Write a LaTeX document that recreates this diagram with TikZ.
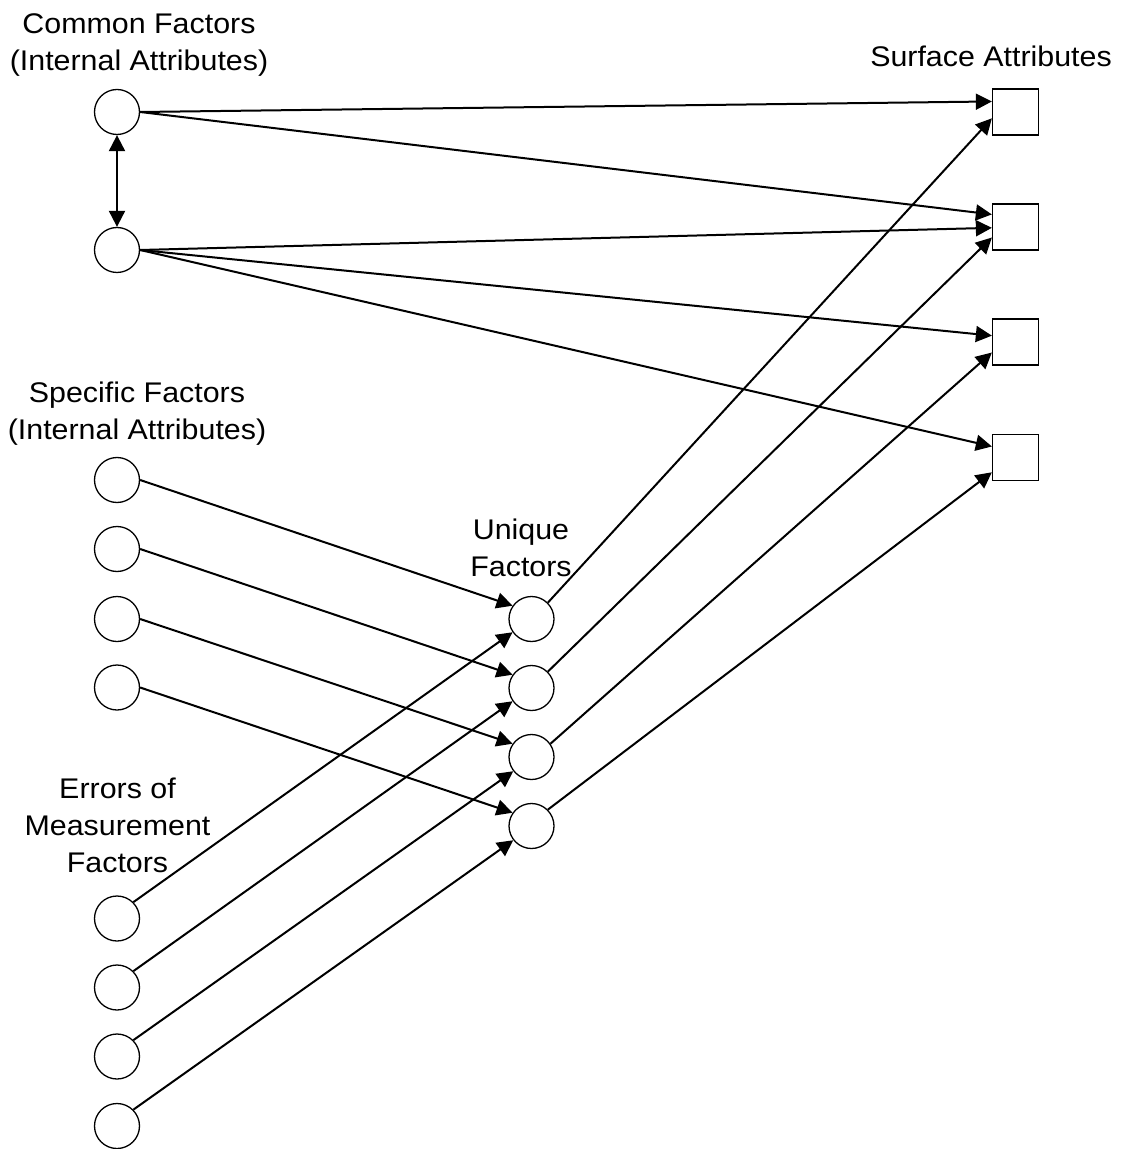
\documentclass[tikz,border=0pt]{standalone}
\usepackage{fontspec}
\setmainfont{Liberation Sans}[FakeStretch=1.07]
\usetikzlibrary{arrows.meta,positioning}
\usepackage{xcolor}
\definecolor{ink}{HTML}{000000}
\tikzset{
  factor/.style={draw=ink, circle, line width=0.65pt, minimum size=22.5pt, inner sep=0pt},
  surface/.style={draw=ink, rectangle, line width=0.65pt, minimum size=23pt, inner sep=0pt},
  caption/.style={align=center, inner sep=0pt, font=\fontsize{14.2}{18.5}\selectfont},
  arrow/.style={-{Triangle[length=8pt,width=8pt]}, line width=1pt, draw=ink},
  twoway/.style={{Triangle[length=8pt,width=8pt]}-{Triangle[length=8pt,width=8pt]}, line width=1pt, draw=ink}
}

\begin{document}
\begin{tikzpicture}[x=0.5pt, y=-0.5pt]
  \useasboundingbox (0,0) rectangle (1124,1149);
  % group captions
  \node[caption, anchor=north] (commoncap) at (139,13) {Common Factors\\(Internal Attributes)};
  \node[caption, anchor=north] (surfcap) at (991,46) {Surface Attributes};
  \node[caption, anchor=north] (speccap) at (137,382) {Specific Factors\\(Internal Attributes)};
  \node[caption, anchor=north] (uniqcap) at (521,519) {Unique\\Factors};
  \node[caption, anchor=north] (errcap) at (117.5,778) {Errors of\\Measurement\\Factors};
  % common factors
  \node[factor] (c1) at (117,112) {};
  \node[factor] (c2) at (117,250) {};
  % surface attributes
  \node[surface] (s1) at (1015.5,112) {};
  \node[surface] (s2) at (1015.5,227) {};
  \node[surface] (s3) at (1015.5,342) {};
  \node[surface] (s4) at (1015.5,457.5) {};
  % specific factors
  \node[factor] (sp1) at (117,480) {};
  \node[factor] (sp2) at (117,549) {};
  \node[factor] (sp3) at (117,619) {};
  \node[factor] (sp4) at (117,687.5) {};
  % unique factors
  \node[factor] (u1) at (531.5,619) {};
  \node[factor] (u2) at (531.5,688) {};
  \node[factor] (u3) at (531.5,757) {};
  \node[factor] (u4) at (531.5,826) {};
  % errors of measurement
  \node[factor] (e1) at (117,918.5) {};
  \node[factor] (e2) at (117,987.5) {};
  \node[factor] (e3) at (117,1056.5) {};
  \node[factor] (e4) at (117,1126) {};
  % correlation of common factors
  \draw[twoway] (c1.south) -- (c2.north);
  % loadings of common factors
  \draw[arrow] (c1.east) -- (s1.156);
  \draw[arrow] (c1.east) -- (s2.152);
  \draw[arrow] (c2.east) -- (s2.182);
  \draw[arrow] (c2.east) -- (s3.165);
  \draw[arrow] (c2.east) -- (s4.155);
  % specific + error make unique
  \draw[arrow] (sp1.east) -- (u1.145);
  \draw[arrow] (sp2.east) -- (u2.145);
  \draw[arrow] (sp3.east) -- (u3.145);
  \draw[arrow] (sp4.east) -- (u4.145);
  \draw[arrow] (e1.north east) -- (u1.215);
  \draw[arrow] (e2.north east) -- (u2.215);
  \draw[arrow] (e3.north east) -- (u3.218);
  \draw[arrow] (e4.north east) -- (u4.218);
  % unique factors to surface attributes
  \draw[arrow] (u1.north east) -- (s1.195);
  \draw[arrow] (u2.north east) -- (s2.204);
  \draw[arrow] (u3.35) -- (s3.204);
  \draw[arrow] (u4.north east) -- (s4.212);
\end{tikzpicture}
\end{document}
